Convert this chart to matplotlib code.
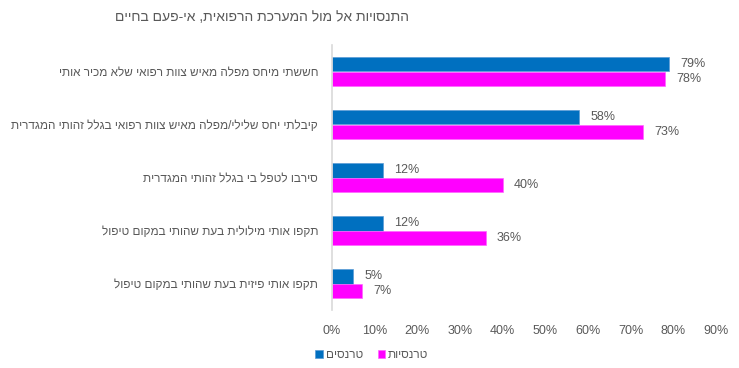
import matplotlib
matplotlib.use("Agg")
import matplotlib.pyplot as plt
import numpy as np

plt.rcParams['font.family'] = ['Liberation Sans', 'DejaVu Sans']

title = "התנסויות אל מול המערכת הרפואית, אי-פעם בחיים"
categories = [
    "חששתי מיחס מפלה מאיש צוות רפואי שלא מכיר אותי",
    "קיבלתי יחס שלילי/מפלה מאיש צוות רפואי בגלל זהותי המגדרית",
    "סירבו לטפל בי בגלל זהותי המגדרית",
    "תקפו אותי מילולית בעת שהותי במקום טיפול",
    "תקפו אותי פיזית בעת שהותי במקום טיפול",
]
series_names = ["טרנסים", "טרנסיות"]
trans_men = [79, 58, 12, 12, 5]
trans_women = [78, 73, 40, 36, 7]
x_ticks = [0, 10, 20, 30, 40, 50, 60, 70, 80, 90]


def rtl(s):
    # matplotlib has no bidi support: reverse the visual order for Hebrew
    return s[::-1]


GRAY = "#595959"
BLUE = "#0070C0"
MAGENTA = "#FF00FF"

fig = plt.figure(figsize=(7.39, 3.68), dpi=100)
ax = fig.add_axes([332 / 739, 1 - 310 / 368, (716 - 332) / 739, (310 - 45) / 368])

y = np.arange(len(categories))
h = 0.265
b1 = ax.barh(y - h / 2, trans_men, height=h, color=BLUE, edgecolor="#5b9bd5", linewidth=0.5,
             label=rtl(series_names[0]))
b2 = ax.barh(y + h / 2, trans_women, height=h, color=MAGENTA, edgecolor="#ff66ff", linewidth=0.5,
             label=rtl(series_names[1]))

for bars, vals in ((b1, trans_men), (b2, trans_women)):
    for rect, v in zip(bars, vals):
        ax.annotate(f"{v}%", (rect.get_width(), rect.get_y() + rect.get_height() / 2),
                    xytext=(8, 0), textcoords="offset points", va="center", ha="left",
                    fontsize=9, color=GRAY)

ax.set_xlim(0, 90)
ax.set_ylim(len(categories) - 0.5, -0.5)
ax.set_xticks(x_ticks)
ax.set_xticklabels([f"{t}%" for t in x_ticks], fontsize=9, color=GRAY)
ax.set_yticks(y)
ax.set_yticklabels([rtl(c) for c in categories], fontsize=8.5, color=GRAY)
ax.tick_params(axis="both", length=0)
ax.tick_params(axis="x", pad=11)
ax.tick_params(axis="y", pad=10)
for side in ("top", "right", "bottom"):
    ax.spines[side].set_visible(False)
ax.spines["left"].set_color("#d9d9d9")
ax.spines["left"].set_linewidth(1.2)

fig.text(262 / 739, 1 - 17 / 368, rtl(title), ha="center", va="center", fontsize=10, color=GRAY)

fig.legend(handles=[b1, b2], labels=[rtl(series_names[0]), rtl(series_names[1])],
           loc="center", bbox_to_anchor=(372 / 739, 1 - 355 / 368), ncol=2, frameon=False,
           fontsize=8.5, labelcolor=GRAY, handlelength=0.6, handleheight=0.6,
           handletextpad=0.3, columnspacing=1.2)

fig.savefig("out.png", dpi=100, facecolor="white")
